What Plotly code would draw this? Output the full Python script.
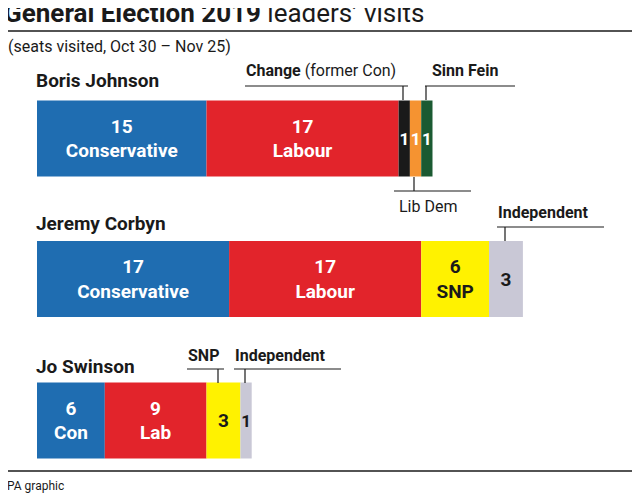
import plotly.graph_objects as go

leaders = ["Boris Johnson", "Jeremy Corbyn", "Jo Swinson"]
segments = {
    "Boris Johnson": [("15<br>Conservative", 15, "#1f6db1", "white"),
                      ("17<br>Labour", 17, "#e2242b", "white"),
                      ("1", 1, "#1a1a1a", "white"),
                      ("1", 1, "#f59331", "white"),
                      ("1", 1, "#1b5a32", "white")],
    "Jeremy Corbyn": [("17<br>Conservative", 17, "#1f6db1", "white"),
                      ("17<br>Labour", 17, "#e2242b", "white"),
                      ("6<br>SNP", 6, "#fff200", "#1a1a1a"),
                      ("3", 3, "#c9c8d6", "#1a1a1a")],
    "Jo Swinson": [("6<br>Con", 6, "#1f6db1", "white"),
                   ("9<br>Lab", 9, "#e2242b", "white"),
                   ("3", 3, "#fff200", "#1a1a1a"),
                   ("1", 1, "#c9c8d6", "#1a1a1a")],
}
OFF = 8  # page body margin compensation
bar_y = {"Boris Johnson": 138.5 - OFF, "Jeremy Corbyn": 279 - OFF, "Jo Swinson": 420.5 - OFF}
bar_h = 76
PX = 11.3   # pixels per seat
X0 = 37 - OFF

W, H = 640, 501
fig = go.Figure()
for ld in leaders:
    base = 0
    for txt, v, col, tc in segments[ld]:
        fig.add_trace(go.Bar(
            x=[v], y=[bar_y[ld]], base=[base], width=bar_h, orientation="h",
            marker=dict(color=col, line=dict(width=0)),
            text=["<b>" + txt + "</b>"], textposition="inside", insidetextanchor="middle",
            textangle=0, constraintext="none",
            textfont=dict(color=tc, size=19 if v > 2 else 17, family="Roboto"),
            showlegend=False, hoverinfo="skip", cliponaxis=False))
        base += v

fig.update_layout(
    width=W, height=H, margin=dict(l=0, r=0, t=0, b=0),
    plot_bgcolor="white", paper_bgcolor="white", barmode="overlay",
    font=dict(family="Roboto", color="#1a1a1a"),
    xaxis=dict(range=[-X0 / PX, (W - X0) / PX], visible=False, fixedrange=True),
    yaxis=dict(range=[H, 0], visible=False, fixedrange=True),
)

def px(x): return (x - OFF) / W
def py(y): return 1 - (y - OFF) / H

def line(x1, y1, x2, y2, w=1.2):
    fig.add_shape(type="line", xref="paper", yref="paper",
                  x0=px(x1), y0=py(y1), x1=px(x2), y1=py(y2),
                  line=dict(color="#1a1a1a", width=w))

def text(x, y, s, size=15, anchor="left"):
    fig.add_annotation(xref="paper", yref="paper", x=px(x), y=py(y), text=s,
                       showarrow=False, xanchor=anchor, yanchor="middle",
                       font=dict(size=size, color="#1a1a1a", family="Roboto"))

text(2, 13, "<b>General Election 2019</b> leaders’ visits", 26)
line(0, 31, 648, 31, 1.5)
text(6, 46, "(seats visited, Oct 30 – Nov 25)", 16)
text(34, 81, "<b>Boris Johnson</b>", 19)
text(34, 223, "<b>Jeremy Corbyn</b>", 19)
text(34, 366, "<b>Jo Swinson</b>", 19)

text(244, 71, "<b>Change</b> (former Con)", 16)
line(245, 86, 408, 86); line(403, 86, 403, 100)
text(430, 71, "<b>Sinn Fein</b>", 16)
line(425, 86, 515, 86); line(426, 86, 426, 100)
line(414, 177, 414, 191); line(394, 191, 471, 191)
text(397, 206, "Lib Dem", 16)
text(496, 213, "<b>Independent</b>", 16)
line(497, 227, 604, 227); line(505, 227, 505, 241)
text(186, 355, "<b>SNP</b>", 16)
line(187, 369, 224, 369); line(218, 369, 218, 383)
text(233, 355, "<b>Independent</b>", 16)
line(234, 369, 341, 369); line(245, 369, 245, 383)

line(0, 471, 648, 471, 1.5)
text(5, 486, "PA graphic", 12)

fig.write_html("out.html")
